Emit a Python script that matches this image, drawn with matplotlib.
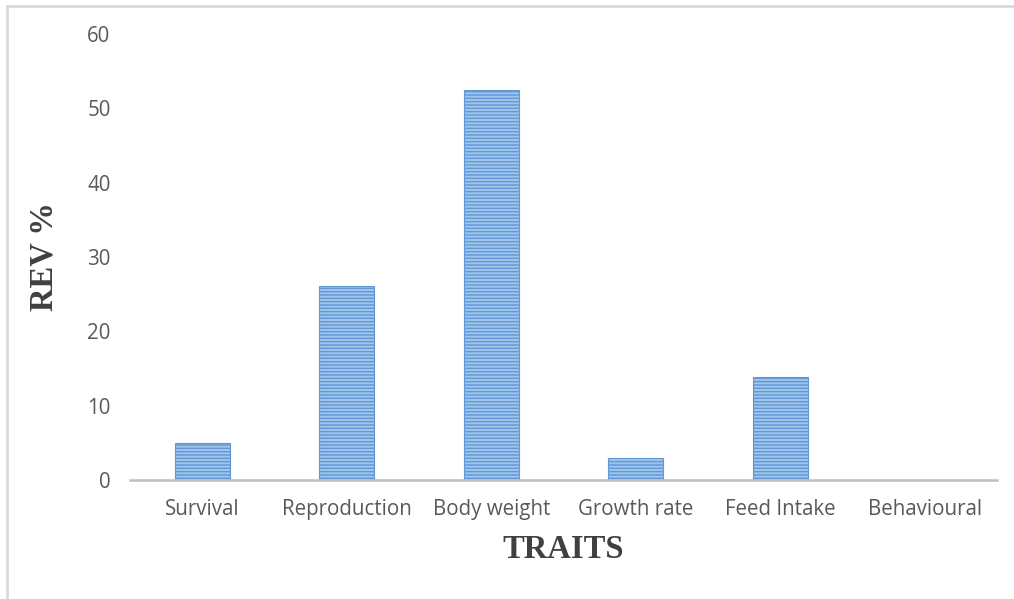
import matplotlib
matplotlib.use('Agg')
import matplotlib.pyplot as plt
from matplotlib.lines import Line2D

# traits and relative economic values (%)
traits = ['Survival', 'Reproduction', 'Body weight', 'Growth rate', 'Feed Intake', 'Behavioural']
rev = [5.0, 26.1, 52.4, 3.0, 13.9, 0.0]

plt.rcParams['hatch.linewidth'] = 1.0

fig = plt.figure(figsize=(10.14, 5.99), dpi=100)
ax = fig.add_axes([130 / 1014, 1 - 480 / 599, 867 / 1014, 446 / 599])

x = range(len(traits))
ax.bar(x, rev, width=0.38, color='#A3C4EA', edgecolor='#5E98D6', linewidth=0.8, hatch='-----')

ax.set_xlim(-0.5, len(traits) - 0.5)
ax.set_ylim(0, 60)
ax.set_yticks(range(0, 61, 10))
ax.set_xticks(list(x))
ax.set_xticklabels(traits)

for s in ['top', 'right', 'left']:
    ax.spines[s].set_visible(False)
ax.spines['bottom'].set_color('#BFBFBF')
ax.spines['bottom'].set_linewidth(1.8)
ax.tick_params(axis='both', length=0, labelsize=14.8, labelcolor='#595959')
ax.tick_params(axis='y', pad=14)
ax.tick_params(axis='x', pad=14)
for lbl in ax.get_xticklabels() + ax.get_yticklabels():
    lbl.set_family('Open Sans')

ax.set_ylabel('REV %', family='Liberation Serif', fontweight='bold', fontsize=23.5, color='#404040', labelpad=20)
ax.set_xlabel('TRAITS', family='Liberation Serif', fontweight='bold', fontsize=23.5, color='#404040', labelpad=10)

# light frame around the chart (top and left edges visible)
fig.add_artist(Line2D([7 / 1014, 1], [1 - 6 / 599, 1 - 6 / 599], color='#D9D9D9', lw=2))
fig.add_artist(Line2D([7 / 1014, 7 / 1014], [0, 1 - 6 / 599], color='#D9D9D9', lw=2))

fig.savefig('out.png', dpi=100)
